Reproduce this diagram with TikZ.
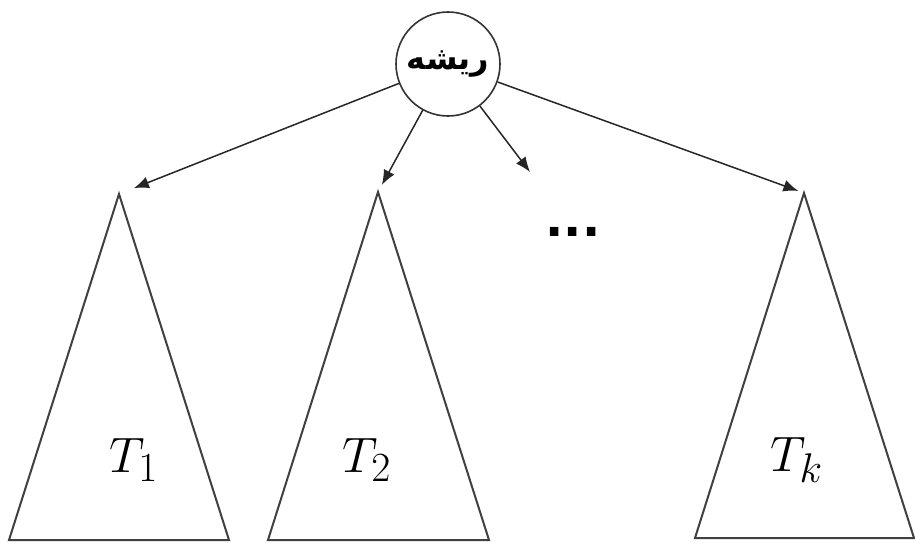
\documentclass[tikz,border=0pt]{standalone}
\usepackage{fontspec}
\usetikzlibrary{arrows.meta}
\newfontfamily\arabicfont[Script=Arabic]{DejaVu Sans}
\TeXXeTstate=1

\begin{document}
\begin{tikzpicture}[
    x=0.5pt, y=-0.5pt,
    rootnode/.style={circle, draw=black!80, line width=0.8pt, minimum size=52pt, inner sep=0pt, font=\arabicfont\bfseries\fontsize{16}{20}\selectfont},
    subtree/.style={draw=black!75, line width=1pt, line join=miter},
    treename/.style={font=\fontsize{30}{33}\selectfont},
    dotsnode/.style={font=\arabicfont\bfseries\fontsize{24}{28}\selectfont},
    arrow/.style={-{Latex[length=7.5pt, width=6pt]}, line width=0.75pt, draw=black!85}
  ]
    \useasboundingbox (0,0) rectangle (915,542);

    \node[rootnode] (root) at (448, 64) {\beginR ريشه\endR};

    % subtree apexes
    \coordinate (a1) at (119, 194);
    \coordinate (a2) at (378, 192);
    \coordinate (ak) at (804, 193);
    \coordinate (more) at (530, 172);

    \draw[subtree] (a1) -- (9, 540) -- (229, 540) -- cycle;
    \draw[subtree] (a2) -- (268, 540) -- (489, 540) -- cycle;
    \draw[subtree] (ak) -- (695, 538) -- (914, 538) -- cycle;

    \node[treename] (t1) at (134, 460) {$T_1$};
    \node[treename] (t2) at (367, 460) {$T_2$};
    \node[treename] (tk) at (797, 460) {$T_k$};
    \node[dotsnode] (dots) at (573, 232) {...};

    % edges from the root
    \draw[arrow, shorten >=8pt] (root) -- (a1);
    \draw[arrow, shorten >=4pt] (root) -- (a2);
    \draw[arrow] (root) -- (more);
    \draw[arrow, shorten >=3pt] (root) -- (ak);

  \end{tikzpicture}
\end{document}
